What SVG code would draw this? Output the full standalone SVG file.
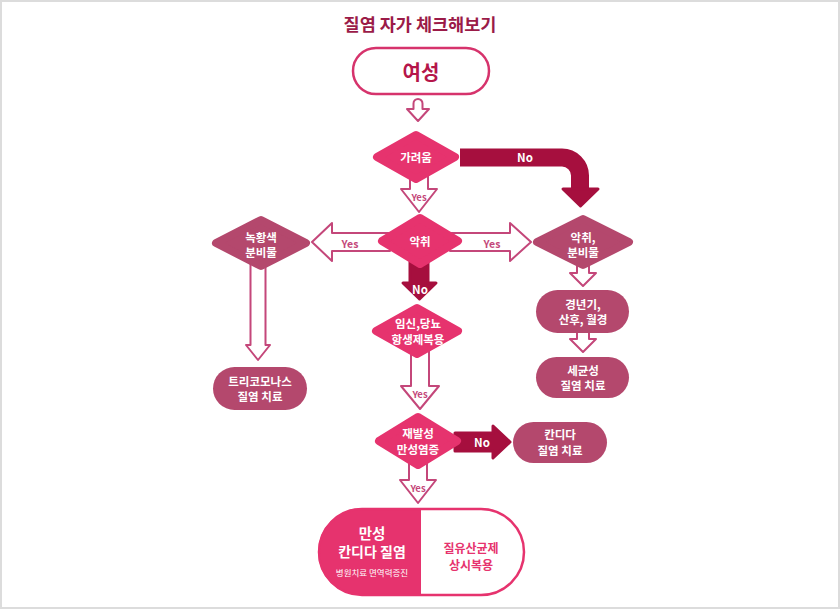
<svg xmlns="http://www.w3.org/2000/svg" width="840" height="609" viewBox="0 0 840 609">
<style>
text{font-family:"Noto Sans CJK KR","Noto Sans",sans-serif;font-weight:bold;text-anchor:middle;dominant-baseline:central}
.hp{fill:#e6336e;stroke:#e6336e;stroke-width:8;stroke-linejoin:round}
.mv{fill:#b4486d;stroke:#b4486d;stroke-width:8;stroke-linejoin:round}
.pill{fill:#b4486d}
.wt{fill:#fff;font-size:11.5px}
.ho{fill:#fff;stroke:#c4477a;stroke-width:2;stroke-linejoin:round}
.cr{fill:#a60f3e;stroke:#a60f3e;stroke-width:3;stroke-linejoin:round}
.yes{fill:#c4477a;font-size:10.5px}
.yv{fill:#c4477a;font-size:9.5px}
.no{fill:#fff;font-size:11.5px}
</style>
<rect x="1" y="1" width="838" height="607" fill="#fff" stroke="#dcdcdc" stroke-width="2"/>
<text x="420" y="23" style="font-size:17.5px;fill:#9b1b48">질염 자가 체크해보기</text>

<g id="connectors">
<path class="ho" d="M413.5,109 V103.5 A4.5,4.5 0 0 1 422.5,103.5 V109 H429 L418,121 L407,109 Z"/>
<path d="M460,157.5 H562 A18,18 0 0 1 580,175.5 V190" fill="none" stroke="#a60f3e" stroke-width="18"/>
<path class="cr" d="M563,189 L598,189 L580.5,206 Z"/>
<text class="no" x="525" y="157">No</text>
<path class="ho" d="M410,175 V189 H401 L419,212 L437,189 H428 V175 Z"/>
<text class="yv" x="419" y="197">Yes</text>
<path class="ho" d="M390,233 H332 V223 L312,242 L332,261 V251 H390 Z"/>
<text class="yes" x="350" y="243">Yes</text>
<path class="ho" d="M450,233 H510 V223 L531,242 L510,261 V251 H450 Z"/>
<text class="yes" x="492" y="243">Yes</text>
<path class="ho" d="M250.5,262 V345 H246 L258,360 L270,345 H265.5 V262 Z"/>
<path class="ho" d="M577,262 V273 H570 L583,286 L596,273 H589 V262 Z"/>
<path class="ho" d="M577,330 V339 H570 L583,352 L596,339 H589 V330 Z"/>
<path class="cr" d="M410,262 V283 H403 L419.5,299 L436,283 H428 V262 Z"/>
<text class="no" x="420" y="289">No</text>
<path class="ho" d="M411,350 V386 H401 L420,409 L439,386 H429 V350 Z"/>
<text class="yv" x="420" y="394">Yes</text>
<path class="cr" d="M455,433 H493 V426 L510,442 L493,458 V451 H455 Z"/>
<text class="no" x="482" y="442">No</text>
<path class="ho" d="M409,462 V480 H400 L418,503 L436,480 H427 V462 Z"/>
<text class="yv" x="418" y="488">Yes</text>
</g>

<g id="n-woman">
<rect x="353" y="48" width="136" height="46" rx="23" fill="#fff" stroke="#d6336c" stroke-width="2.5"/>
<text x="421" y="71" style="font-size:20px;fill:#b5164a">여성</text>
</g>
<g id="n-itch">
<polygon class="hp" points="416,135 455,157 416,179 377,157"/>
<text class="wt" x="416" y="157">가려움</text>
</g>
<g id="n-odor">
<polygon class="hp" points="420,218 458,241 420,264 382,241"/>
<text class="wt" x="420" y="241">악취</text>
</g>
<g id="n-green">
<polygon class="mv" points="261,220 306,243 261,266 216,243"/>
<text class="wt" x="261" y="237">녹황색</text>
<text class="wt" x="261" y="252">분비물</text>
</g>
<g id="n-odor2">
<polygon class="mv" points="583,219 629,242 583,265 537,242"/>
<text class="wt" x="583" y="237">악취,</text>
<text class="wt" x="583" y="252">분비물</text>
</g>
<g id="n-trich">
<rect class="pill" x="213" y="367" width="94" height="43" rx="21.5"/>
<text class="wt" x="260" y="381">트리코모나스</text>
<text class="wt" x="260" y="396">질염 치료</text>
</g>
<g id="n-meno">
<rect class="pill" x="536" y="290" width="93" height="43" rx="21.5"/>
<text class="wt" x="583" y="304">경년기,</text>
<text class="wt" x="583" y="319">산후, 월경</text>
</g>
<g id="n-bact">
<rect class="pill" x="536" y="357" width="93" height="41" rx="20.5"/>
<text class="wt" x="583" y="370">세균성</text>
<text class="wt" x="583" y="385">질염 치료</text>
</g>
<g id="n-preg">
<polygon class="hp" points="417,308 458,331 417,354 376,331"/>
<text class="wt" x="418" y="323">임신,당뇨</text>
<text class="wt" x="418" y="339">항생제복용</text>
</g>
<g id="n-recur">
<polygon class="hp" points="418,417 457,441 418,465 379,441"/>
<text class="wt" x="418" y="433">재발성</text>
<text class="wt" x="418" y="449">만성염증</text>
</g>
<g id="n-candida">
<rect class="pill" x="513" y="422" width="94" height="41" rx="20.5"/>
<text class="wt" x="560" y="434">칸디다</text>
<text class="wt" x="560" y="450">질염 치료</text>
</g>
<g id="n-chronic">
<path d="M421,509 H361 A43,43 0 0 0 361,595 H421 Z" fill="#e6336e"/>
<rect x="319" y="509" width="205" height="86" rx="43" fill="none" stroke="#e6336e" stroke-width="2.5"/>
<text x="372" y="532" style="font-size:14.5px;fill:#fff">만성</text>
<text x="372" y="551" style="font-size:14px;fill:#fff">칸디다 질염</text>
<text x="372" y="572" style="font-size:8.5px;fill:#fff;font-weight:normal">병원치료 면역력증진</text>
<text x="471" y="547" style="font-size:12px;fill:#e6336e">질유산균제</text>
<text x="471" y="564" style="font-size:12px;fill:#e6336e">상시복용</text>
</g>
</svg>
